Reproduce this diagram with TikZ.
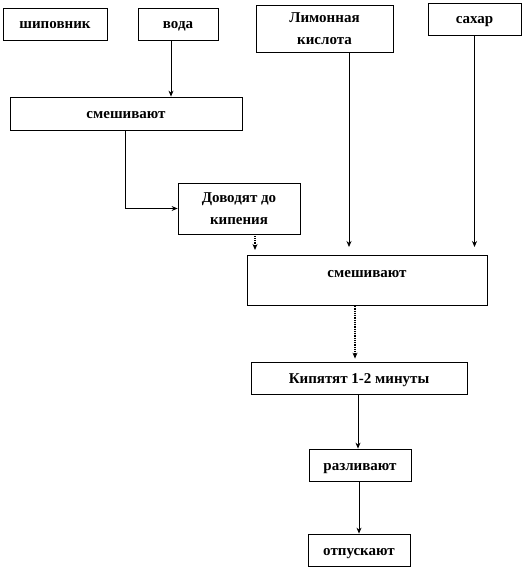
\documentclass[tikz,border=0pt]{standalone}
\usepackage{fontspec}
\setmainfont{Liberation Serif}
\usetikzlibrary{arrows.meta,calc}
\begin{document}
\begin{tikzpicture}[x=1pt,y=-1pt,
  box/.style={draw=black,line width=0.8pt,rectangle,inner sep=0pt,align=center,
    font=\bfseries\fontsize{15}{21.5}\selectfont},
  one/.style={box,align=none,text height=10pt,text depth=0pt},
  arr/.style={draw=black,line width=0.8pt,-{Stealth[length=6pt,width=5pt]}},
  dots/.style={densely dotted,line width=1.2pt}]
\useasboundingbox (0,0) rectangle (525,569);
\node[one,minimum width=104pt,minimum height=32pt] (ship) at (55,24) {шиповник};
\node[one,minimum width=80pt,minimum height=32pt] (voda) at (178,24) {вода};
\node[box,minimum width=137pt,minimum height=47pt] (lemon) at (324.5,28.5) {Лимонная\\кислота};
\node[one,minimum width=93pt,minimum height=32pt] (sugar) at (474.5,19) {сахар};
\node[one,minimum width=232pt,minimum height=33pt] (mix1) at (126,113.5) {смешивают};
\node[box,minimum width=122pt,minimum height=51pt] (boil) at (239,208.5) {Доводят до\\кипения};
\node[box,minimum width=240pt,minimum height=50pt,anchor=north,align=none,
  text height=22pt,text depth=28pt] (mix2) at (367,255) {смешивают};
\node[one,minimum width=216pt,minimum height=32pt] (kip) at (359,378) {Кипятят 1-2 минуты};
\node[one,minimum width=102pt,minimum height=32pt] (razl) at (360,465) {разливают};
\node[one,minimum width=102pt,minimum height=32pt] (otp) at (359,550) {отпускают};
\draw[arr] ([xshift=-7pt]voda.south) -- ([xshift=-7pt]voda.south |- mix1.north);
\draw[arr] ([xshift=-1pt]mix1.south) |- (boil.west);
\draw[arr,dots,shorten >=5pt] ([xshift=16pt]boil.south) -- ([xshift=16pt]boil.south |- mix2.north);
\draw[arr,shorten >=8pt] ([xshift=24.5pt]lemon.south) -- ([xshift=24.5pt]lemon.south |- mix2.north);
\draw[arr,shorten >=8pt] (sugar.south) -- (sugar.south |- mix2.north);
\draw[arr,dots,shorten >=3pt] ([xshift=-12pt]mix2.south) -- ([xshift=-12pt]mix2.south |- kip.north);
\draw[arr] ([xshift=-1pt]kip.south) -- ([xshift=-1pt]kip.south |- razl.north);
\draw[arr] ([xshift=-1pt]razl.south) -- ([xshift=-1pt]razl.south |- otp.north);
\end{tikzpicture}
\end{document}
